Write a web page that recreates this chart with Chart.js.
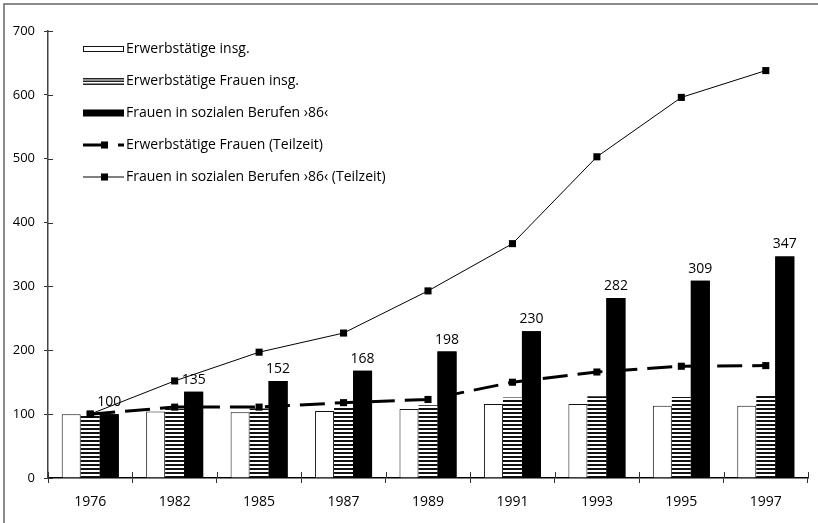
<!DOCTYPE html>
<html>
<head>
<meta charset="utf-8">
<script src="https://cdn.jsdelivr.net/npm/chart.js@4.4.0/dist/chart.umd.min.js"></script>
<style>
  body { margin: 0; background: #fff; }
  #wrap { width: 818px; height: 523px; }
</style>
</head>
<body>
<div id="wrap"><canvas id="mycan" width="818" height="523"></canvas></div>
<script>
// data (index, 1976 = 100)
var years = ['1976', '1982', '1985', '1987', '1989', '1991', '1993', '1995', '1997'];
var erwerbstaetige = [100, 104, 103, 105, 108, 116, 116, 113, 113];
var frauenInsg = [100, 108, 109, 111, 114, 126, 128, 127, 129];
var sozialBerufe = [100, 135, 152, 168, 198, 230, 282, 309, 347];
var frauenTeilzeit = [100, 111, 111, 118, 123, 150, 166, 175, 176];
var sozialTeilzeit = [100, 152, 197, 227, 293, 367, 503, 596, 638];
var yTicks = [0, 100, 200, 300, 400, 500, 600, 700];

var labels = ['Erwerbstätige insg.', 'Erwerbstätige Frauen insg.', 'Frauen in sozialen Berufen ›86‹',
              'Erwerbstätige Frauen (Teilzeit)', 'Frauen in sozialen Berufen ›86‹ (Teilzeit)'];

var FONT = '"Open Sans", "Noto Sans", sans-serif';

var canvas = document.getElementById('mycan');
var ctx = canvas.getContext('2d');

// horizontal stripes for the second bar series
var tile = document.createElement('canvas');
tile.width = 4; tile.height = 4;
var tg = tile.getContext('2d');
tg.fillStyle = '#fff'; tg.fillRect(0, 0, 4, 4);
tg.fillStyle = '#111'; tg.fillRect(0, 0, 4, 2);
var stripes = ctx.createPattern(tile, 'repeat');

// frame, background
var framePlugin = {
  id: 'frame',
  beforeDraw: function(chart) {
    var c = chart.ctx;
    c.save();
    c.fillStyle = '#fff';
    c.fillRect(0, 0, chart.width, chart.height);
    c.strokeStyle = '#666';
    c.lineWidth = 1.5;
    c.beginPath();
    c.moveTo(4, chart.height);
    c.lineTo(4, 4);
    c.lineTo(chart.width, 4);
    c.stroke();
    c.restore();
  }
};

// black bars over the lines, value labels, inner tick halves
var extrasPlugin = {
  id: 'extras',
  afterDatasetsDraw: function(chart) {
    var c = chart.ctx;
    var area = chart.chartArea;
    var meta = chart.getDatasetMeta(2);
    c.save();
    c.beginPath();
    c.rect(area.left, area.top, area.right - area.left, area.bottom - area.top);
    c.clip();
    meta.data.forEach(function(el) { el.draw(c); });
    c.restore();

    c.save();
    c.fillStyle = '#000';
    c.font = '14px ' + FONT;
    c.textAlign = 'center';
    c.textBaseline = 'alphabetic';
    meta.data.forEach(function(el, i) {
      c.fillText(String(sozialBerufe[i]), el.x, el.y - 8);
    });
    c.restore();
  },
  afterDraw: function(chart) {
    var c = chart.ctx;
    var area = chart.chartArea;
    var ys = chart.scales.y;
    var xs = chart.scales.x;
    c.save();
    c.strokeStyle = '#333';
    c.lineWidth = 1;
    yTicks.forEach(function(v) {
      var py = Math.round(ys.getPixelForValue(v)) + 0.5;
      c.beginPath(); c.moveTo(area.left, py); c.lineTo(area.left + 5, py); c.stroke();
    });
    var n = years.length;
    for (var i = 0; i <= n; i++) {
      var px = Math.round(xs.left + i * (xs.right - xs.left) / n) + 0.5;
      c.beginPath(); c.moveTo(px, area.bottom); c.lineTo(px, area.bottom - 6); c.stroke();
    }
    c.restore();
  }
};

// legend inside the plot, top left
var legendPlugin = {
  id: 'innerLegend',
  afterDraw: function(chart) {
    var c = chart.ctx;
    var ds = chart.data.datasets;
    var x0 = 83, x1 = 124, rows = [49, 81, 113, 145, 177];
    c.save();
    ds.forEach(function(d, i) {
      var y = rows[i];
      if (d.type === 'line') {
        c.save();
        c.strokeStyle = d.borderColor;
        c.lineWidth = d.borderWidth;
        c.setLineDash(d.borderDash || []);
        c.beginPath(); c.moveTo(x0, y); c.lineTo(x1, y); c.stroke();
        c.restore();
        var s = d.pointRadius * Math.SQRT1_2;
        var mx = (x0 + x1) / 2 + 1;
        c.fillStyle = d.pointBackgroundColor;
        c.fillRect(mx - s, y - s, 2 * s, 2 * s);
      } else if (i === 1) {
        // striped sample: white box with three dark stripes
        c.fillStyle = '#fff';
        c.fillRect(x0, y - 3, x1 - x0, 7);
        c.fillStyle = '#222';
        c.fillRect(x0, y - 3, x1 - x0, 1.5);
        c.fillRect(x0, y - 0.5, x1 - x0, 1.5);
        c.fillRect(x0, y + 2.5, x1 - x0, 1.5);
      } else {
        var h = i === 2 ? 7 : 6;
        c.fillStyle = d.backgroundColor;
        c.fillRect(x0, y - h / 2, x1 - x0, h);
        if (d.borderWidth) {
          c.strokeStyle = d.borderColor;
          c.lineWidth = 1;
          c.strokeRect(x0 + 0.5, Math.round(y - h / 2) + 0.5, x1 - x0 - 1, h - 1);
        }
      }
      c.fillStyle = '#000';
      c.font = '14px ' + FONT;
      c.textAlign = 'left';
      c.textBaseline = 'middle';
      c.fillText(d.label, x1 + 2, y);
    });
    c.restore();
  }
};

var chartdata = {
  labels: years,
  datasets: [
    {
      type: 'bar', label: labels[0], data: erwerbstaetige, order: 1,
      backgroundColor: '#fff', borderColor: '#111', borderWidth: 1
    },
    {
      type: 'bar', label: labels[1], data: frauenInsg, order: 1,
      backgroundColor: stripes, borderWidth: 0
    },
    {
      type: 'bar', label: labels[2], data: sozialBerufe, order: 1,
      backgroundColor: '#000', borderWidth: 0
    },
    {
      type: 'line', label: labels[3], data: frauenTeilzeit, order: 0,
      borderColor: '#000', borderWidth: 3, borderDash: [25, 10],
      pointStyle: 'rect', pointRadius: 5, pointBackgroundColor: '#000', pointBorderWidth: 0,
      tension: 0, fill: false
    },
    {
      type: 'line', label: labels[4], data: sozialTeilzeit, order: 0,
      borderColor: '#000', borderWidth: 1,
      pointStyle: 'rect', pointRadius: 5, pointBackgroundColor: '#000', pointBorderWidth: 0,
      tension: 0, fill: false
    }
  ]
};

var chart = new Chart(ctx, {
  type: 'bar',
  data: chartdata,
  plugins: [framePlugin, extrasPlugin, legendPlugin],
  options: {
    responsive: false,
    animation: false,
    devicePixelRatio: 1,
    layout: { padding: { left: 6, top: 31, right: 10, bottom: 0 } },
    datasets: { bar: { categoryPercentage: 0.675, barPercentage: 1 } },
    plugins: { legend: { display: false }, tooltip: { enabled: false } },
    scales: {
      x: {
        grid: { drawOnChartArea: false, offset: true, tickLength: 5, color: '#333', lineWidth: 1 },
        border: { color: '#000', width: 1.5 },
        ticks: { color: '#000', padding: 11, font: { family: FONT, size: 14 }, maxRotation: 0 },
        afterFit: function(s) { s.height = 45; }
      },
      y: {
        min: 0, max: 700,
        afterBuildTicks: function(s) { s.ticks = yTicks.map(function(v) { return { value: v }; }); },
        grid: { drawOnChartArea: false, tickLength: 4, color: '#333', lineWidth: 1 },
        border: { color: '#444', width: 1.5 },
        ticks: { color: '#000', padding: 9, font: { family: FONT, size: 13 } },
        afterFit: function(s) { s.width = 42; }
      }
    }
  }
});
</script>
</body>
</html>
